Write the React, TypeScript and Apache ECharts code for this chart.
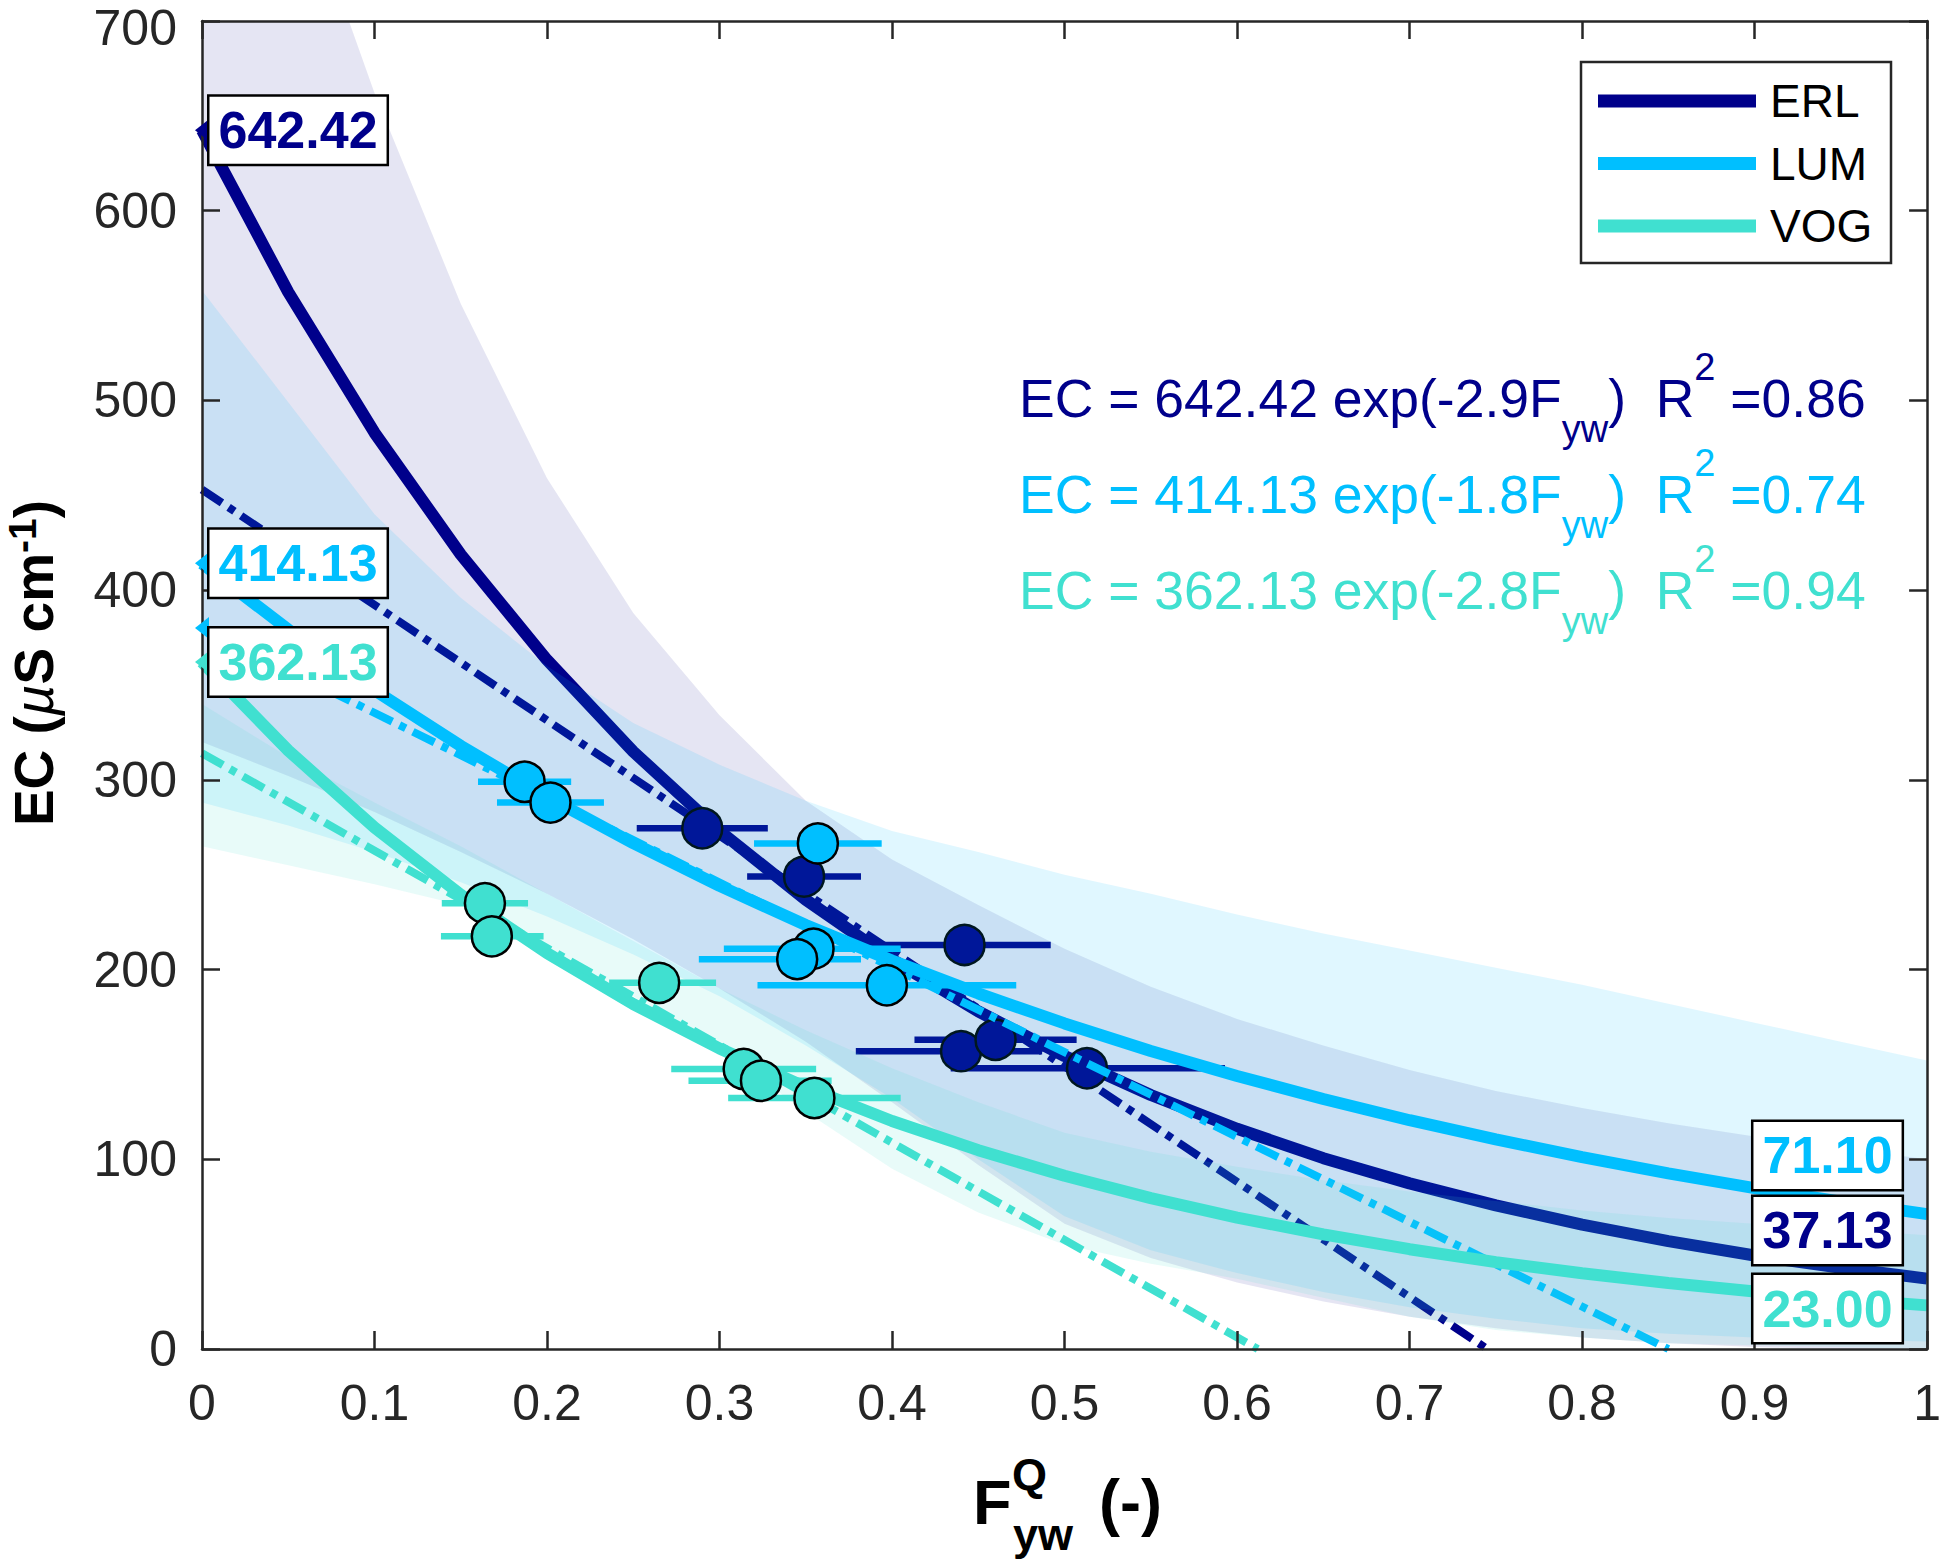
import React, { useEffect, useRef } from 'react';
import * as echarts from 'echarts';

// x grid of the fitted curves / bands (kinks every 0.05)
const fGrid = [0, 0.05, 0.1, 0.15, 0.2, 0.25, 0.3, 0.35, 0.4, 0.45, 0.5, 0.55, 0.6, 0.65, 0.7, 0.75, 0.8, 0.85, 0.9, 0.95, 1];

// exponential fits
const erlFit = [642.4, 557.1, 483.0, 418.8, 363.2, 314.9, 273.1, 236.8, 205.3, 178.0, 154.4, 133.9, 116.1, 100.6, 87.3, 75.7, 65.6, 56.9, 49.3, 42.8, 37.1];
const lumFit = [414.1, 379.2, 347.2, 317.9, 291.1, 266.6, 244.1, 223.5, 204.7, 187.4, 171.6, 157.1, 143.9, 131.8, 120.6, 110.5, 101.1, 92.6, 84.8, 77.7, 71.1];
const vogFit = [362.1, 315.5, 274.9, 239.5, 208.7, 181.8, 158.4, 138.0, 120.2, 104.8, 91.3, 79.5, 69.3, 60.4, 52.6, 45.8, 39.9, 34.8, 30.3, 26.4, 23.0];

// shaded bands (upper / lower edges)
const erlUpper = [950, 790, 662, 551, 459, 388, 334, 289, 258, 234, 211, 191, 174, 160, 147, 136, 127, 119, 112, 106, 100];
const erlLower = [320, 302, 283, 262, 240, 216, 190, 162, 130, 97, 66, 48, 35, 25, 17, 11, 6, 3, 1, 0, 0];
const lumUpper = [558, 499, 440, 396, 360, 330, 308, 289, 273, 262, 250, 240, 229, 219, 210, 201, 192, 182, 172, 162, 152];
const lumLower = [288, 276, 262, 246, 228, 208, 186, 160, 132, 100, 70, 52, 40, 30, 22, 16, 11, 8, 6, 5, 4];
const vogUpper = [340, 312, 288, 265, 240, 215, 190, 168, 148, 130, 114, 104, 96, 89, 83, 78, 73, 69, 66, 63, 60];
const vogLower = [265, 255, 245, 234, 210, 186, 158, 125, 95, 72, 55, 45, 37, 27, 17, 10, 6, 3, 2, 1, 0];

// linear fits (dash-dot)
const erlLin = [[0, 453], [0.745, 0]];
const lumLin = [[0, 380], [0.85, 0]];
const vogLin = [[0, 314], [0.612, 0]];

// observations: [F, EC, F low, F high]
const erlPoints = [
  [0.29, 274.5, 0.252, 0.328],
  [0.349, 249, 0.316, 0.382],
  [0.442, 213, 0.389, 0.492],
  [0.44, 157, 0.379, 0.487],
  [0.46, 163, 0.413, 0.507],
  [0.513, 148, 0.434, 0.593],
];
const lumPoints = [
  [0.187, 299, 0.16, 0.214],
  [0.202, 288, 0.171, 0.233],
  [0.357, 266.5, 0.32, 0.394],
  [0.3545, 211, 0.3025, 0.405],
  [0.345, 205.5, 0.288, 0.382],
  [0.397, 191.7, 0.322, 0.472],
];
const vogPoints = [
  [0.164, 235, 0.139, 0.189],
  [0.168, 217.5, 0.1385, 0.198],
  [0.265, 193, 0.236, 0.298],
  [0.314, 147.6, 0.272, 0.356],
  [0.324, 141.4, 0.282, 0.365],
  [0.355, 132.3, 0.305, 0.405],
];

// value boxes
const leftLabels = ['642.42', '414.13', '362.13'];
const leftLabelY = [642.42, 414.13, 362.13];
const rightLabels = ['71.10', '37.13', '23.00'];
const rightLabelY = [102, 62.5, 21.3];
const rightLabelX = 0.895;

// little pointers on the y axis
const markerY = [642.42, 414.13, 380, 362.13];

const legendNames = ['ERL', 'LUM', 'VOG'];
const equations = [
  ['EC = 642.42 exp(-2.9F', ')  R', ' =0.86'],
  ['EC = 414.13 exp(-1.8F', ')  R', ' =0.74'],
  ['EC = 362.13 exp(-2.8F', ')  R', ' =0.94'],
];

const C_ERL = '#00008B';
const C_LUM = '#00BFFF';
const C_VOG = '#40E0D0';
const colors = [C_ERL, C_LUM, C_VOG];
const markerColors = [C_ERL, C_LUM, C_LUM, C_VOG];
const labelColorsLeft = [C_ERL, C_LUM, C_VOG];
const labelColorsRight = [C_LUM, C_ERL, C_VOG];
const AX = '#262626';
const FONT = '"Liberation Sans", Arial, Helvetica, sans-serif';
const Y_TOP = 700;

const band = (upper: number[], lower: number[], fill: string, z: number) => ({
  type: 'custom',
  z,
  silent: true,
  data: [[0, 0]],
  encode: { x: 0, y: 1 },
  renderItem: (params: any, api: any) => {
    const pts: number[][] = [];
    fGrid.forEach((f, i) => pts.push(api.coord([f, upper[i]])));
    for (let i = fGrid.length - 1; i >= 0; i--) pts.push(api.coord([fGrid[i], lower[i]]));
    const cs = params.coordSys;
    return {
      type: 'polygon',
      shape: { points: pts },
      style: { fill },
      clipPath: { type: 'rect', shape: { x: cs.x, y: cs.y, width: cs.width, height: cs.height } },
    };
  },
});

const fitLine = (vals: number[], color: string, z: number) => ({
  type: 'line',
  z,
  silent: true,
  symbol: 'none',
  data: fGrid.map((f, i) => [f, vals[i]]),
  lineStyle: { color, width: 12 },
});

const linLine = (pts: number[][], color: string, z: number) => ({
  type: 'line',
  z,
  silent: true,
  symbol: 'none',
  data: pts,
  lineStyle: { color, width: 8, type: [24, 8, 7, 8] },
});

const errBars = (pts: number[][], color: string, z: number) => ({
  type: 'custom',
  z,
  silent: true,
  data: pts,
  encode: { x: [2, 3], y: 1 },
  renderItem: (params: any, api: any) => {
    const y = api.value(1);
    const a = api.coord([api.value(2), y]);
    const b = api.coord([api.value(3), y]);
    return {
      type: 'line',
      shape: { x1: a[0], y1: a[1], x2: b[0], y2: b[1] },
      style: { stroke: color, lineWidth: 6.5 },
    };
  },
});

const dots = (pts: number[][], color: string, z: number) => ({
  type: 'scatter',
  z,
  silent: true,
  symbolSize: 40,
  data: pts.map((p) => [p[0], p[1]]),
  itemStyle: { color, borderColor: '#000', borderWidth: 2.5, opacity: 1 },
});

const boxLabel = (color: string) => ({
  show: true,
  position: 'right',
  distance: 7,
  formatter: '{b}',
  color,
  opacity: 1,
  fontFamily: FONT,
  fontWeight: 'bold',
  fontSize: 52,
  lineHeight: 54,
  backgroundColor: '#fff',
  borderColor: '#000',
  borderWidth: 2.5,
  padding: [7, 9, 6, 9],
});

const App: React.FC = () => {
  const chartRef = useRef<HTMLDivElement>(null);

  useEffect(() => {
    if (!chartRef.current) return;
    const chart = echarts.init(chartRef.current, undefined, { renderer: 'svg' });

    const axisCommon = {
      type: 'value',
      axisLine: { show: true, onZero: false, lineStyle: { color: AX, width: 2.5 } },
      axisTick: { show: true, inside: true, length: 18, lineStyle: { color: AX, width: 2.5 } },
      splitLine: { show: false },
      z: 20,
    };

    const legendGraphics: any[] = [
      {
        type: 'rect',
        shape: { x: 1581, y: 62, width: 310, height: 201 },
        style: { fill: '#fff', stroke: AX, lineWidth: 2.5 },
        z: 30,
      },
    ];
    legendNames.forEach((n, i) => {
      const y = 101 + i * 62.5;
      legendGraphics.push({
        type: 'line',
        shape: { x1: 1598, y1: y, x2: 1756, y2: y },
        style: { stroke: colors[i], lineWidth: 13 },
        z: 31,
      });
      legendGraphics.push({
        type: 'text',
        x: 1770,
        y,
        style: { text: n, fill: '#000', font: `46px ${FONT}`, verticalAlign: 'middle', align: 'left' },
        z: 31,
      });
    });

    const eqGraphics = equations.map((e, i) => ({
      type: 'text',
      x: 1019,
      y: 398 + i * 96,
      z: 30,
      style: {
        text: `{m|${e[0]}}{s|yw}{m|${e[1]}}{p|2}{m|${e[2]}}`,
        align: 'left',
        verticalAlign: 'middle',
        rich: {
          m: { fill: colors[i], fontSize: 53.5, fontFamily: FONT, lineHeight: 100, verticalAlign: 'middle' },
          s: { fill: colors[i], fontSize: 38, fontFamily: FONT, lineHeight: 36, verticalAlign: 'bottom' },
          p: { fill: colors[i], fontSize: 38, fontFamily: FONT, lineHeight: 56, verticalAlign: 'top' },
        },
      },
    }));

    const nameBold = { fill: '#000', fontFamily: FONT, fontWeight: 'bold' };
    const axisNames: any[] = [
      {
        type: 'text', x: 973, y: 1502, z: 30,
        style: { ...nameBold, text: 'F', fontSize: 63, align: 'left', verticalAlign: 'middle' },
      },
      {
        type: 'text', x: 1012, y: 1474, z: 30,
        style: { ...nameBold, text: 'Q', fontSize: 45, align: 'left', verticalAlign: 'middle' },
      },
      {
        type: 'text', x: 1013, y: 1534, z: 30,
        style: { ...nameBold, text: 'yw', fontSize: 45, align: 'left', verticalAlign: 'middle' },
      },
      {
        type: 'text', x: 1099, y: 1502, z: 30,
        style: { ...nameBold, text: '(-)', fontSize: 63, align: 'left', verticalAlign: 'middle' },
      },
      {
        type: 'text', x: 34, y: 663, rotation: Math.PI / 2, z: 30,
        style: {
          text: '{b|EC (}{mu|\u00b5}{b|S cm}{sup|-1}{b|)}',
          align: 'center',
          verticalAlign: 'middle',
          rich: {
            b: { ...nameBold, fontSize: 55, lineHeight: 62, verticalAlign: 'middle' },
            mu: { fill: '#000', fontFamily: FONT, fontStyle: 'italic', fontSize: 55, lineHeight: 62, verticalAlign: 'middle' },
            sup: { ...nameBold, fontSize: 39, lineHeight: 32, verticalAlign: 'top' },
          },
        },
      },
      // top y tick label sits against the page edge: drawn by hand, a few px lower so it is not cut
      {
        type: 'text', x: 177, y: 28, z: 30,
        style: { text: String(Y_TOP), fill: AX, fontFamily: FONT, fontSize: 50, align: 'right', verticalAlign: 'middle' },
      },
    ];

    const option: any = {
      animation: false,
      backgroundColor: '#fff',
      grid: { left: 202, top: 21, width: 1732, height: 1328, containLabel: false },
      xAxis: [
        {
          ...axisCommon,
          position: 'bottom',
          min: 0,
          max: 1,
          interval: 0.1,
          axisLabel: {
            color: AX,
            fontSize: 50,
            lineHeight: 40,
            fontFamily: FONT,
            margin: 34,
            formatter: (v: number) => String(Math.round(v * 10) / 10),
          },
        },
        { ...axisCommon, position: 'top', min: 0, max: 1, interval: 0.1, axisLabel: { show: false } },
      ],
      yAxis: [
        {
          ...axisCommon,
          position: 'left',
          min: 0,
          max: Y_TOP,
          interval: 100,
          axisLabel: {
            color: AX,
            fontSize: 50,
            lineHeight: 38,
            fontFamily: FONT,
            margin: 25,
            formatter: (v: number) => (v === Y_TOP ? '' : String(v)),
          },
        },
        { ...axisCommon, position: 'right', min: 0, max: Y_TOP, interval: 100, axisLabel: { show: false } },
      ],
      series: [
        band(erlUpper, erlLower, 'rgba(0,0,139,0.1)', 1),
        fitLine(erlFit, C_ERL, 2),
        linLine(erlLin, C_ERL, 2),
        errBars(erlPoints, C_ERL, 3),
        dots(erlPoints, C_ERL, 3),
        band(lumUpper, lumLower, 'rgba(0,191,255,0.12)', 4),
        fitLine(lumFit, C_LUM, 5),
        linLine(lumLin, C_LUM, 5),
        errBars(lumPoints, C_LUM, 6),
        dots(lumPoints, C_LUM, 6),
        band(vogUpper, vogLower, 'rgba(64,224,208,0.12)', 7),
        fitLine(vogFit, C_VOG, 8),
        linLine(vogLin, C_VOG, 8),
        errBars(vogPoints, C_VOG, 9),
        dots(vogPoints, C_VOG, 9),
        {
          type: 'scatter',
          z: 25,
          silent: true,
          clip: false,
          symbol: 'triangle',
          symbolSize: [22, 14],
          symbolRotate: 90,
          data: markerY.map((y, i) => ({ value: [0, y], itemStyle: { color: markerColors[i], opacity: 1 } })),
        },
        {
          type: 'scatter',
          z: 26,
          silent: true,
          clip: false,
          symbolSize: 1,
          itemStyle: { color: 'transparent', opacity: 1 },
          data: leftLabels
            .map((t, i) => ({ name: t, value: [0, leftLabelY[i]], label: boxLabel(labelColorsLeft[i]) }))
            .concat(
              rightLabels.map((t, i) => ({
                name: t,
                value: [rightLabelX, rightLabelY[i]],
                label: boxLabel(labelColorsRight[i]),
              }))
            ),
        },
      ],
      graphic: [...legendGraphics, ...eqGraphics, ...axisNames],
    };

    chart.setOption(option);

    return () => {
      chart.dispose();
    };
  }, []);

  return (
    <div
      ref={chartRef}
      style={{ position: 'absolute', left: 0, top: 0, width: '1944px', height: '1568px' }}
    />
  );
};

export default App;
